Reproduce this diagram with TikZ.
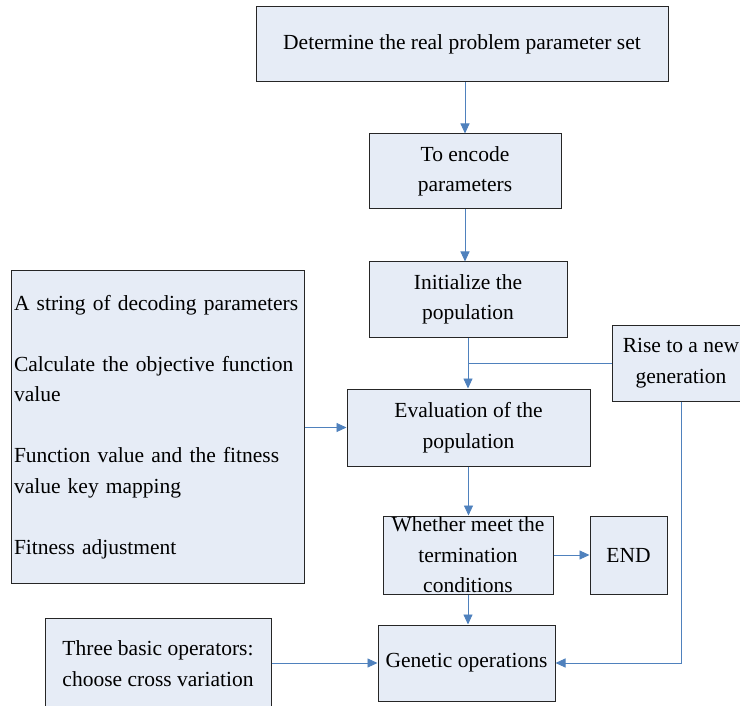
\documentclass[tikz,border=0pt]{standalone}
\usepackage{fontspec}
\setmainfont{Liberation Serif}
\usetikzlibrary{positioning, arrows.meta}
\definecolor{boxfill}{RGB}{230,236,246}
\definecolor{flowblue}{RGB}{79,129,189}

\tikzset{
    stepbox/.style={rectangle, draw=black!85, line width=1pt, fill=boxfill, align=center, inner xsep=3pt, inner ysep=0pt, font=\fontsize{21.5}{30.5}\selectfont},
    flow/.style={-{Triangle[length=10pt, width=9pt]}, flowblue, line width=0.9pt},
    flowline/.style={flowblue, line width=0.9pt},
}

\begin{document}
\begin{tikzpicture}[x=1pt, y=-1pt]
            \clip (0, 0) rectangle (740, 706);
            \node[stepbox, minimum width=412pt, minimum height=75pt] (param) at (462, 44.5) {Determine the real problem parameter set};
            \node[stepbox, minimum width=192pt, minimum height=75pt] (encode) at (465, 171.5) {To encode\\parameters};
            \node[stepbox, minimum width=198pt, minimum height=75pt] (init) at (468, 299.5) {Initialize the\\population};
            \node[stepbox, minimum width=138pt, minimum height=76pt] (rise) at (681, 363) {Rise to a new\\generation};
            \node[stepbox, minimum width=243pt, minimum height=77pt] (eval) at (468.5, 427.5) {Evaluation of the\\population};
            \node[stepbox, minimum width=293pt, minimum height=312pt, text width=287pt, align=left] (decode) at (157.5, 427) {A string of decoding parameters\\[30.5pt]Calculate the objective function\\value\\[30.5pt]Function value and the fitness\\value key mapping\\[30.5pt]Fitness adjustment};
            \node[stepbox, minimum width=170pt, minimum height=78pt] (whether) at (468, 555) {Whether meet the\\termination\\conditions};
            \node[stepbox, minimum width=77pt, minimum height=78pt] (theend) at (628.5, 555) {END};
            \node[stepbox, minimum width=177pt, minimum height=76pt] (genetic) at (466.5, 663) {Genetic operations};
            \node[stepbox, minimum width=226pt, minimum height=91pt] (ops) at (158, 663.5) {Three basic operators:\\choose cross variation};

            \coordinate (join) at (init.south |- rise.west);

            \draw[flow] (param.south -| encode.north) -- (encode.north);
            \draw[flow] (encode.south) -- (encode.south |- init.north);
            \draw[flow] (init.south) -- (init.south |- eval.north);
            \draw[flowline] (rise.west) -- (join);
            \draw[flow] (decode.east |- eval.west) -- (eval.west);
            \draw[flow] (eval.south) -- (eval.south |- whether.north);
            \draw[flow] (whether.east) -- (theend.west);
            \draw[flow] (whether.south) -- (whether.south |- genetic.north);
            \draw[flow] (ops.east |- genetic.west) -- (genetic.west);
            \draw[flow] (rise.south) |- (genetic.east);
        \end{tikzpicture}
\end{document}
